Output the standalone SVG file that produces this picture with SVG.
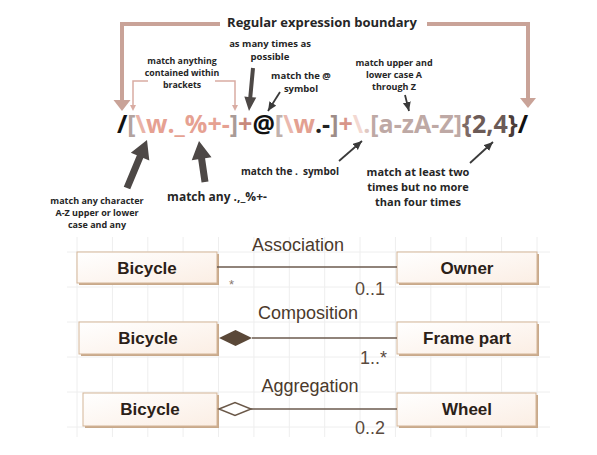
<svg xmlns="http://www.w3.org/2000/svg" width="597" height="455" viewBox="0 0 597 455">
<style>
.ann{font-family:"Open Sans","DejaVu Sans",sans-serif;font-weight:700;fill:#262626;text-anchor:middle}
.uml{font-family:"Liberation Sans",Arial,sans-serif}
.cls{font-size:17px;font-weight:700;fill:#2b2118;text-anchor:middle}
.rel{font-size:18px;fill:#4b3a2c;text-anchor:middle}
.mul{font-size:18px;fill:#5a4a3e}
.grid line{stroke:#eeeeee;stroke-width:1}
.box{fill:url(#boxg);stroke:#d3b597;stroke-width:1}
.shadow{fill:#c8a98b}
.pink{fill:none;stroke:#c9a398;stroke-width:4}
.pinkthin{fill:none;stroke:#d9aca2;stroke-width:1.5}
.dark{fill:#4d4846}
.thin{stroke:#3a3a3a;stroke-width:1.8;fill:none}
.assoc{stroke:#6b5a4e;stroke-width:1.6;fill:none}
</style>
<defs>
<linearGradient id="boxg" x1="0" y1="0" x2="1" y2="1">
<stop offset="0" stop-color="#ffffff"/>
<stop offset="1" stop-color="#fbeee4"/>
</linearGradient>
<marker id="thinHead" markerUnits="userSpaceOnUse" markerWidth="10" markerHeight="10" refX="9" refY="4" orient="auto">
<path d="M0,0 L9,4 L0,8 z" fill="#3a3a3a"/>
</marker>
</defs>
<rect width="597" height="455" fill="#ffffff"/>

<!-- grid background -->
<g class="grid">
<line x1="67" y1="252" x2="550" y2="252"/>
<line x1="67" y1="287" x2="550" y2="287"/>
<line x1="67" y1="322" x2="550" y2="322"/>
<line x1="67" y1="357" x2="550" y2="357"/>
<line x1="67" y1="392" x2="550" y2="392"/>
<line x1="67" y1="427" x2="550" y2="427"/>
<line x1="77" y1="237" x2="77" y2="437"/>
<line x1="112.4" y1="237" x2="112.4" y2="437"/>
<line x1="147.8" y1="237" x2="147.8" y2="437"/>
<line x1="183.1" y1="237" x2="183.1" y2="437"/>
<line x1="218.5" y1="237" x2="218.5" y2="437"/>
<line x1="253.9" y1="237" x2="253.9" y2="437"/>
<line x1="289.3" y1="237" x2="289.3" y2="437"/>
<line x1="324.7" y1="237" x2="324.7" y2="437"/>
<line x1="360" y1="237" x2="360" y2="437"/>
<line x1="395.4" y1="237" x2="395.4" y2="437"/>
<line x1="430.8" y1="237" x2="430.8" y2="437"/>
<line x1="466.2" y1="237" x2="466.2" y2="437"/>
<line x1="501.6" y1="237" x2="501.6" y2="437"/>
<line x1="537" y1="237" x2="537" y2="437"/>
</g>

<!-- regex -->
<g id="regex">
<text x="117" y="133" font-family="'Open Sans','DejaVu Sans',sans-serif" font-weight="700" font-size="25" textLength="411" lengthAdjust="spacingAndGlyphs"><tspan fill="#111111">/</tspan><tspan fill="#b3a39f">[</tspan><tspan fill="#e9b3a8">\</tspan><tspan fill="#e6a192">w._%+-</tspan><tspan fill="#a99b97">]</tspan><tspan fill="#c8897c">+</tspan><tspan fill="#111111">@</tspan><tspan fill="#bfb0ac">[</tspan><tspan fill="#eab8ae">\</tspan><tspan fill="#e3a091">w</tspan><tspan fill="#222222">.-</tspan><tspan fill="#9d8c88">]</tspan><tspan fill="#d8958a">+</tspan><tspan fill="#f3d8d1">\</tspan><tspan fill="#e0c8c2">.</tspan><tspan fill="#bea9a5">[a-zA-Z]</tspan><tspan fill="#7d6a66">{</tspan><tspan fill="#6c5b57">2,4</tspan><tspan fill="#4b3d39">}</tspan><tspan fill="#111111">/</tspan></text>
</g>

<!-- annotations -->
<g id="annotations">
<text class="ann" x="322" y="27" font-size="13">Regular expression boundary</text>
<text class="ann" x="182" y="63.5" font-size="8.8">match anything</text>
<text class="ann" x="182" y="75.5" font-size="8.8">contained within</text>
<text class="ann" x="182" y="87.5" font-size="8.8">brackets</text>
<text class="ann" x="270" y="47" font-size="9.5">as many times as</text>
<text class="ann" x="270" y="60" font-size="9.5">possible</text>
<text class="ann" x="301" y="79" font-size="9.5">match the @</text>
<text class="ann" x="301" y="92" font-size="9.5">symbol</text>
<text class="ann" x="394" y="66" font-size="9">match upper and</text>
<text class="ann" x="394" y="78" font-size="9">lower case A</text>
<text class="ann" x="394" y="90" font-size="9">through Z</text>
<text class="ann" x="97" y="204" font-size="9">match any character</text>
<text class="ann" x="97" y="216" font-size="9">A-Z upper or lower</text>
<text class="ann" x="97" y="228" font-size="9">case and any</text>
<text class="ann" x="217" y="201" font-size="12">match any .,_%+-</text>
<text class="ann" x="290" y="175" font-size="10" xml:space="preserve">match the .  symbol</text>
<text class="ann" x="418" y="176" font-size="11">match at least two</text>
<text class="ann" x="418" y="191" font-size="11">times but no more</text>
<text class="ann" x="418" y="206" font-size="11">than four times</text>
</g>

<!-- UML nodes -->
<g id="bicycle1" class="uml">
<rect class="shadow" x="79" y="254" width="140" height="31"/>
<rect class="box" x="77" y="252" width="140" height="31"/>
<text class="cls" x="147" y="274">Bicycle</text>
</g>
<g id="owner" class="uml">
<rect class="shadow" x="399" y="254" width="140" height="31"/>
<rect class="box" x="397" y="252" width="140" height="31"/>
<text class="cls" x="467" y="274">Owner</text>
</g>
<g id="bicycle2" class="uml">
<rect class="shadow" x="81" y="324" width="138" height="32"/>
<rect class="box" x="79" y="322" width="138" height="32"/>
<text class="cls" x="148" y="344">Bicycle</text>
</g>
<g id="framepart" class="uml">
<rect class="shadow" x="399" y="324" width="140" height="32"/>
<rect class="box" x="397" y="322" width="140" height="32"/>
<text class="cls" x="467" y="344">Frame part</text>
</g>
<g id="bicycle3" class="uml">
<rect class="shadow" x="85" y="395" width="134" height="33"/>
<rect class="box" x="83" y="393" width="134" height="33"/>
<text class="cls" x="150" y="415">Bicycle</text>
</g>
<g id="wheel" class="uml">
<rect class="shadow" x="399" y="395" width="139" height="33"/>
<rect class="box" x="397" y="393" width="139" height="33"/>
<text class="cls" x="467" y="415">Wheel</text>
</g>

<!-- connectors -->
<g id="connectors">
<polyline class="pink" points="220,24 122,24 122,101"/>
<polygon points="113.5,100 130.5,100 122,111" fill="#c9a398"/>
<polyline class="pink" points="427,24 528,24 528,99"/>
<polygon points="520,98 536,98 528,108" fill="#c9a398"/>
<polyline class="pinkthin" points="148,81 133,81 133,106"/>
<polygon points="130,105 136,105 133,111" fill="#d9aca2"/>
<polyline class="pinkthin" points="215,81 235,81 235,106"/>
<polygon points="232,105 238,105 235,111" fill="#d9aca2"/>
<polygon class="dark" points="251.01,67.82 248.31,96.88 244.33,96.5 249,111 256.27,97.62 252.29,97.25 254.99,68.19"/>
<polygon class="dark" points="130.23,189.35 143.3,157.95 149.3,160.45 147,140 130.84,152.75 136.84,155.25 123.77,186.65"/>
<polygon class="dark" points="208.46,181.49 205.07,158.29 211.5,157.35 199,141 191.72,160.25 198.15,159.31 201.54,182.51"/>
<line class="thin" x1="280" y1="92" x2="268" y2="111" marker-end="url(#thinHead)"/>
<line class="thin" x1="405" y1="95" x2="409" y2="111" marker-end="url(#thinHead)"/>
<line class="thin" x1="339" y1="161" x2="362" y2="141" marker-end="url(#thinHead)"/>
<line class="thin" x1="470" y1="163" x2="493" y2="142" marker-end="url(#thinHead)"/>
<line class="assoc" x1="217" y1="267" x2="397" y2="267"/>
<line class="assoc" x1="252" y1="338" x2="397" y2="338"/>
<polygon points="219,338 235.5,330 252,338 235.5,346" fill="#5a4838"/>
<line class="assoc" x1="251" y1="409" x2="397" y2="409"/>
<polygon points="219,409 235,402.5 251,409 235,415.5" fill="#ffffff" stroke="#6a5848" stroke-width="1.5"/>
</g>

<!-- UML labels -->
<g id="uml-labels" class="uml">
<text class="rel" x="298" y="251">Association</text>
<text class="rel" x="308" y="319">Composition</text>
<text class="rel" x="310" y="392">Aggregation</text>
<text x="229" y="289" font-size="13" fill="#8a7a70">*</text>
<text class="mul" x="355" y="295">0..1</text>
<text class="mul" x="360" y="364">1..*</text>
<text class="mul" x="355" y="434">0..2</text>
</g>
</svg>
